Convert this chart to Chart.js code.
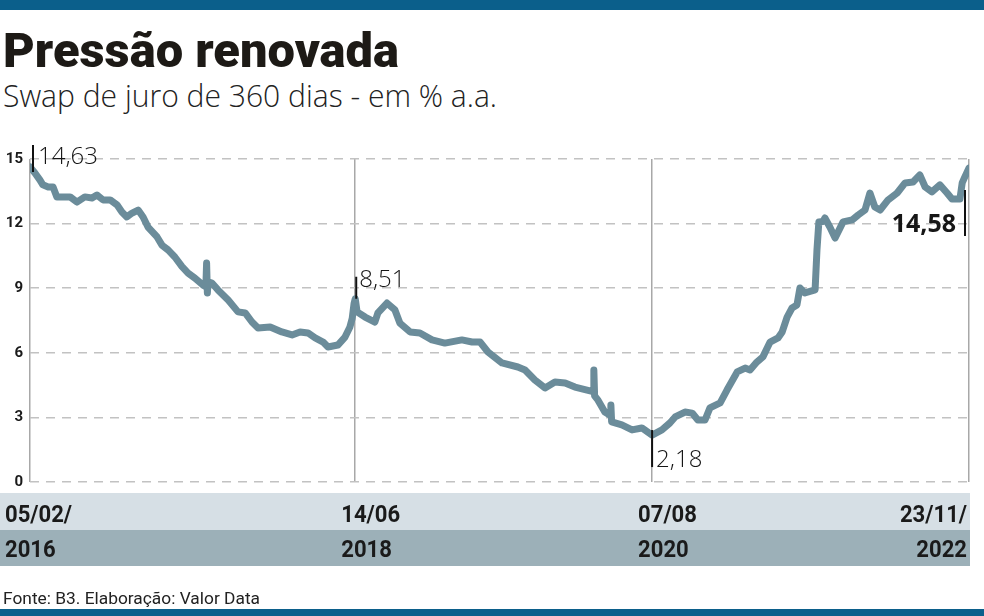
<!DOCTYPE html>
<html lang="pt-BR">
<head>
  <meta charset="UTF-8" />
  <title>Pressão renovada</title>
  <script src="https://cdn.jsdelivr.net/npm/chart.js"></script>
  <style>
    body { margin: 0; width: 984px; height: 616px; position: relative; background: #fff; overflow: hidden; font-family: Roboto, sans-serif; }
    .barra { position: absolute; left: 0; width: 984px; background: #0b5f8b; }
    .texto { position: absolute; left: 3px; white-space: nowrap; transform-origin: left top; line-height: 1; }
    #titulo { top: 26px; font-size: 49px; font-weight: 900; color: #1d1a16; }
    #subtitulo { top: 79px; font-family: "Open Sans", sans-serif; font-size: 32px; font-weight: 300; color: #222; }
    #fonte { top: 590px; font-size: 17px; color: #222; }
    #grafico { position: absolute; left: 0; top: 0; }
  </style>
</head>
<body>
  <div class="barra" style="top:0;height:10px"></div>
  <div class="barra" style="top:609px;height:7px"></div>
  <div id="titulo" class="texto">Pressão renovada</div>
  <div id="subtitulo" class="texto">Swap de juro de 360 dias - em % a.a.</div>
  <canvas id="grafico" width="984" height="616"></canvas>
  <div id="fonte" class="texto">Fonte: B3. Elaboração: Valor Data</div>

  <script>
// dias corridos desde 05/02/2016 e swap de 360 dias (% a.a.)
const dias = [0, 13, 26, 34, 48, 61, 71, 87, 106, 124, 145, 164, 177, 193, 212, 230, 243, 256, 270, 286,
  299, 312, 336, 349, 365, 383, 402, 418, 436, 457, 465, 467, 469, 471, 481, 497, 524, 550, 569, 587,
  603, 635, 666, 693, 714, 735, 754, 775, 788, 814, 833, 846, 852, 857, 860, 865, 886, 912, 920, 944,
  965, 978, 1005, 1031, 1063, 1097, 1142, 1169, 1190, 1211, 1248, 1290, 1309, 1335, 1362, 1388, 1415, 1441, 1473, 1489,
  1491, 1493, 1502, 1520, 1534, 1536, 1538, 1565, 1592, 1618, 1645, 1671, 1692, 1706, 1732, 1751, 1766, 1785, 1798, 1825,
  1843, 1870, 1891, 1904, 1922, 1938, 1957, 1978, 1989, 2002, 2015, 2028, 2036, 2049, 2076, 2081, 2086, 2097, 2102, 2115,
  2129, 2150, 2174, 2190, 2208, 2221, 2234, 2248, 2269, 2293, 2314, 2335, 2353, 2367, 2385, 2406, 2425, 2438, 2459, 2465,
  2472, 2483];
const swap = [14.63, 14.35, 14.03, 13.8, 13.7, 13.7, 13.24, 13.24, 13.24, 13.0, 13.24, 13.19, 13.33, 13.1, 13.1, 12.87, 12.54, 12.31, 12.49, 12.63,
  12.31, 11.84, 11.38, 11.0, 10.78, 10.45, 10.0, 9.7, 9.47, 9.15, 9.06, 10.17, 8.78, 9.3, 9.24, 8.92, 8.45, 7.9, 7.85, 7.43,
  7.15, 7.2, 6.97, 6.83, 6.97, 6.92, 6.69, 6.5, 6.27, 6.36, 6.73, 7.2, 7.6, 8.3, 8.51, 7.9, 7.66, 7.43, 7.85, 8.31,
  7.99, 7.38, 6.97, 6.92, 6.6, 6.45, 6.6, 6.5, 6.5, 6.04, 5.53, 5.34, 5.2, 4.74, 4.37, 4.64, 4.6, 4.41, 4.27, 4.2,
  5.2, 4.0, 3.8, 3.25, 3.1, 3.58, 2.79, 2.65, 2.42, 2.51, 2.18, 2.42, 2.74, 3.02, 3.25, 3.2, 2.88, 2.88, 3.44, 3.67,
  4.27, 5.11, 5.29, 5.2, 5.57, 5.81, 6.5, 6.69, 6.97, 7.66, 8.08, 8.22, 9.01, 8.78, 8.92, 10.78, 12.08, 12.1, 12.26, 11.84,
  11.33, 12.08, 12.17, 12.4, 12.63, 13.42, 12.77, 12.63, 13.1, 13.42, 13.89, 13.93, 14.26, 13.7, 13.47, 13.8, 13.42, 13.14, 13.14, 13.89,
  14.17, 14.58];

// datas marcadas no eixo horizontal
const marcosDias = [0, 860, 1645, 2483];
const marcosData = ['05/02/', '14/06', '07/08', '23/11/'];
const marcosAno = ['2016', '2018', '2020', '2022'];

// valores destacados
const destaqueDias = [0, 860, 1645, 2483];
const destaqueValores = [14.63, 8.51, 2.18, 14.58];

const yMin = 0, yMax = 15, yPasso = 3;

// ajusta a largura dos textos do cabeçalho
function ajustar(id, largura) {
  const el = document.getElementById(id);
  el.style.display = 'inline-block';
  const w = el.getBoundingClientRect().width;
  el.style.transform = 'scaleX(' + (largura / w) + ')';
}
ajustar('titulo', 396);
ajustar('subtitulo', 494);
ajustar('fonte', 257);

// faixas de datas e marcações
const extras = {
  id: 'extras',
  beforeDraw(chart) {
    const { ctx, chartArea } = chart;
    ctx.save();
    ctx.fillStyle = '#d6dfe5';
    ctx.fillRect(0, 493, chartArea.right + 1, 37);
    ctx.fillStyle = '#9cb0b8';
    ctx.fillRect(0, 530, chartArea.right + 1, 36);
    ctx.restore();
  },
  afterDraw(chart) {
    const { ctx } = chart;
    const x = chart.scales.x, y = chart.scales.y;
    ctx.save();
    ctx.fillStyle = '#1a1a1a';
    ctx.font = 'bold 24px Roboto, sans-serif';
    marcosDias.forEach((d, i) => {
      const px = x.getPixelForValue(d);
      let align = 'left', tx = px - 14;
      if (i === 0) tx = 5;
      if (i === marcosDias.length - 1) { align = 'right'; tx = px - 2; }
      ctx.textAlign = align;
      [[marcosData[i], 522], [marcosAno[i], 557]].forEach(([t, by]) => {
        ctx.save();
        ctx.translate(tx, by);
        ctx.scale(0.92, 1);
        ctx.fillText(t, 0, 0);
        ctx.restore();
      });
    });

    // marcas dos destaques
    const estilo = [
      { dx: 3, y1: -22, y2: 5, tx: 8, ty: -3, align: 'left', bold: false },
      { dx: 1, y1: -22, y2: 0, tx: 4, ty: -12, align: 'left', bold: false },
      { dx: 0, y1: -5, y2: 32, tx: 4, ty: 32, align: 'left', bold: false },
      { dx: -4, y1: 22, y2: 68, tx: -13, ty: 64, align: 'right', bold: true }
    ];
    destaqueDias.forEach((d, i) => {
      const px = x.getPixelForValue(d), py = y.getPixelForValue(destaqueValores[i]);
      const s = estilo[i];
      ctx.strokeStyle = '#111';
      ctx.lineWidth = 2;
      ctx.beginPath();
      ctx.moveTo(px + s.dx, py + s.y1);
      ctx.lineTo(px + s.dx, py + s.y2);
      ctx.stroke();
      ctx.textAlign = s.align;
      ctx.font = s.bold ? 'bold 25px "Open Sans", sans-serif' : '300 24px "Open Sans", sans-serif';
      ctx.fillStyle = '#161616';
      ctx.fillText(destaqueValores[i].toFixed(2).replace('.', ','), px + s.tx, py + s.ty);
    });
    ctx.restore();
  }
};

new Chart(document.getElementById('grafico'), {
  type: 'line',
  data: {
    datasets: [{
      data: dias.map((d, i) => ({ x: d, y: swap[i] })),
      borderColor: '#6b8c9a',
      borderWidth: 7,
      borderJoinStyle: 'round',
      borderCapStyle: 'round',
      pointRadius: 0,
      tension: 0
    }]
  },
  options: {
    responsive: false,
    animation: false,
    events: [],
    layout: { padding: { top: 159, right: 15, bottom: 134, left: 0 } },
    plugins: { legend: { display: false }, tooltip: { enabled: false } },
    scales: {
      x: {
        type: 'linear',
        min: 0,
        max: marcosDias[marcosDias.length - 1],
        afterBuildTicks(scale) { scale.ticks = marcosDias.map(v => ({ value: v })); },
        ticks: { display: false },
        grid: { color: '#a8a8a8', lineWidth: 1.5, drawTicks: false },
        border: { display: false }
      },
      y: {
        min: yMin,
        max: yMax,
        afterFit(scale) { scale.width = 30; },
        ticks: { stepSize: yPasso, padding: 7, color: '#1a1a1a', font: { family: 'Roboto', weight: 'bold', size: 15 } },
        grid: { color: '#c2c2c2', lineWidth: 1.5, drawTicks: false },
        border: { display: false, dash: [9, 7] }
      }
    }
  },
  plugins: [extras]
});
  </script>
</body>
</html>
